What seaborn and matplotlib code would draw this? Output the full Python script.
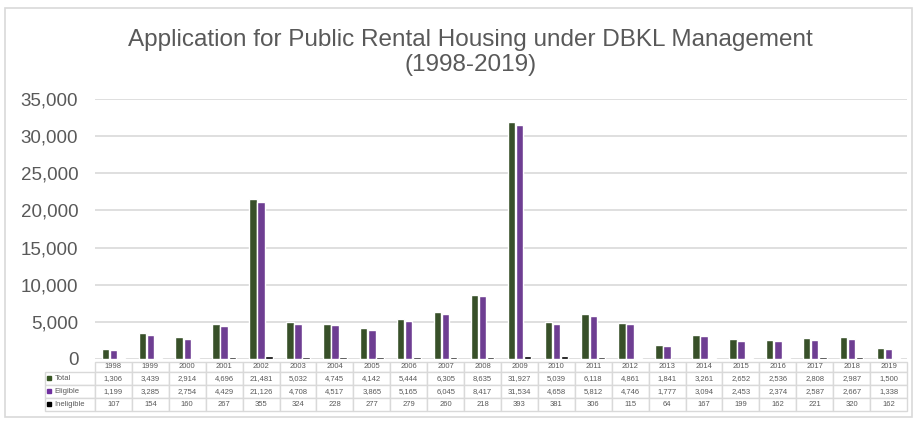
"""Application for Public Rental Housing under DBKL Management (1998-2019)."""
import matplotlib.pyplot as plt
import matplotlib.patches as mpatches
import pandas as pd
import seaborn as sns

ANIOS = [str(a) for a in range(1998, 2020)]
TOTAL = [1306, 3439, 2914, 4696, 21481, 5032, 4745, 4142, 5444, 6305, 8635,
         31927, 5039, 6118, 4861, 1841, 3261, 2652, 2536, 2808, 2987, 1500]
ELIGIBLE = [1199, 3285, 2754, 4429, 21126, 4708, 4517, 3865, 5165, 6045, 8417,
            31534, 4658, 5812, 4746, 1777, 3094, 2453, 2374, 2587, 2667, 1338]
INELIGIBLE = [107, 154, 160, 267, 355, 324, 228, 277, 279, 260, 218,
              393, 381, 306, 115, 64, 167, 199, 162, 221, 320, 162]
SERIES = ["Total", "Eligible", "Ineligible"]
COLORES = {"Total": "#375623", "Eligible": "#7030a0", "Ineligible": "#000000"}
TEXTO = "#595959"
BORDE = "#d9d9d9"


def main():
    datos = pd.DataFrame({
        "anio": ANIOS * 3,
        "serie": ["Total"] * 22 + ["Eligible"] * 22 + ["Ineligible"] * 22,
        "valor": TOTAL + ELIGIBLE + INELIGIBLE,
    })

    sns.set_style("white")
    plt.rcParams["font.family"] = ["Liberation Sans", "DejaVu Sans"]

    fig = plt.figure(figsize=(9.17, 4.21), dpi=100)
    ax = fig.add_axes([0.1036, 0.1473, 0.8855, 0.6176])

    sns.barplot(
        data=datos, x="anio", y="valor", hue="serie", hue_order=SERIES,
        palette=COLORES, width=0.66, gap=0.08, legend=False, ax=ax,
    )
    ax.set_ylim(0, 35000)
    ax.set_xlim(-0.5, 21.5)
    ax.set_yticks(range(0, 35001, 5000))
    ax.set_yticklabels([f"{v:,}" for v in range(0, 35001, 5000)],
                       fontsize=13.5, color=TEXTO)
    ax.yaxis.grid(True, color=BORDE, linewidth=1.2)
    ax.set_axisbelow(True)
    ax.set_xticks([])
    ax.set_xlabel("")
    ax.set_ylabel("")
    ax.tick_params(axis="y", length=0, pad=12)
    for lado in ax.spines.values():
        lado.set_visible(False)

    fig.text(0.513, 0.875, "Application for Public Rental Housing under DBKL "
             "Management\n(1998-2019)", ha="center", va="center",
             fontsize=17.5, color=TEXTO, linespacing=1.2)

    # tabla de datos bajo el eje: cabecera 10 px, filas 13 px
    celdas = [[""] + ANIOS]
    for nombre, valores in zip(SERIES, [TOTAL, ELIGIBLE, INELIGIBLE]):
        celdas.append([nombre] + [f"{v:,}" for v in valores])
    ancho_col = (907 - 95) / 22
    anchos = [50] + [ancho_col] * 22
    alto_total = 10 + 13 * 3
    tabla = ax.table(
        cellText=celdas, colWidths=anchos, cellLoc="center",
        bbox=[-50 / 812, -(3 + alto_total) / 260, 862 / 812,
              alto_total / 260],
    )
    tabla.auto_set_font_size(False)
    for (fila, col), celda in tabla.get_celld().items():
        celda.set_edgecolor(BORDE)
        celda.set_linewidth(1.0)
        celda.set_height(10 if fila == 0 else 13)
        celda.get_text().set_fontsize(5.5)
        celda.get_text().set_color(TEXTO)
        if col == 0:
            celda.get_text().set_ha("left")
            celda.PAD = 0.19
        if fila == 0 and col == 0:
            celda.visible_edges = ""

    for i, nombre in enumerate(SERIES):
        centro_px = 372 + 13 * i + 6.5
        ax.plot([-46 / 812], [(359 - centro_px) / 260], marker="s",
                markersize=2.8, color=COLORES[nombre],
                transform=ax.transAxes, clip_on=False)

    fig.patches.append(mpatches.Rectangle(
        (5 / 917, 4 / 421), 907 / 917, 409 / 421, transform=fig.transFigure,
        fill=False, edgecolor=BORDE, linewidth=1.2,
    ))

    fig.savefig("out.png", dpi=100)
    plt.close(fig)


if __name__ == "__main__":
    main()
